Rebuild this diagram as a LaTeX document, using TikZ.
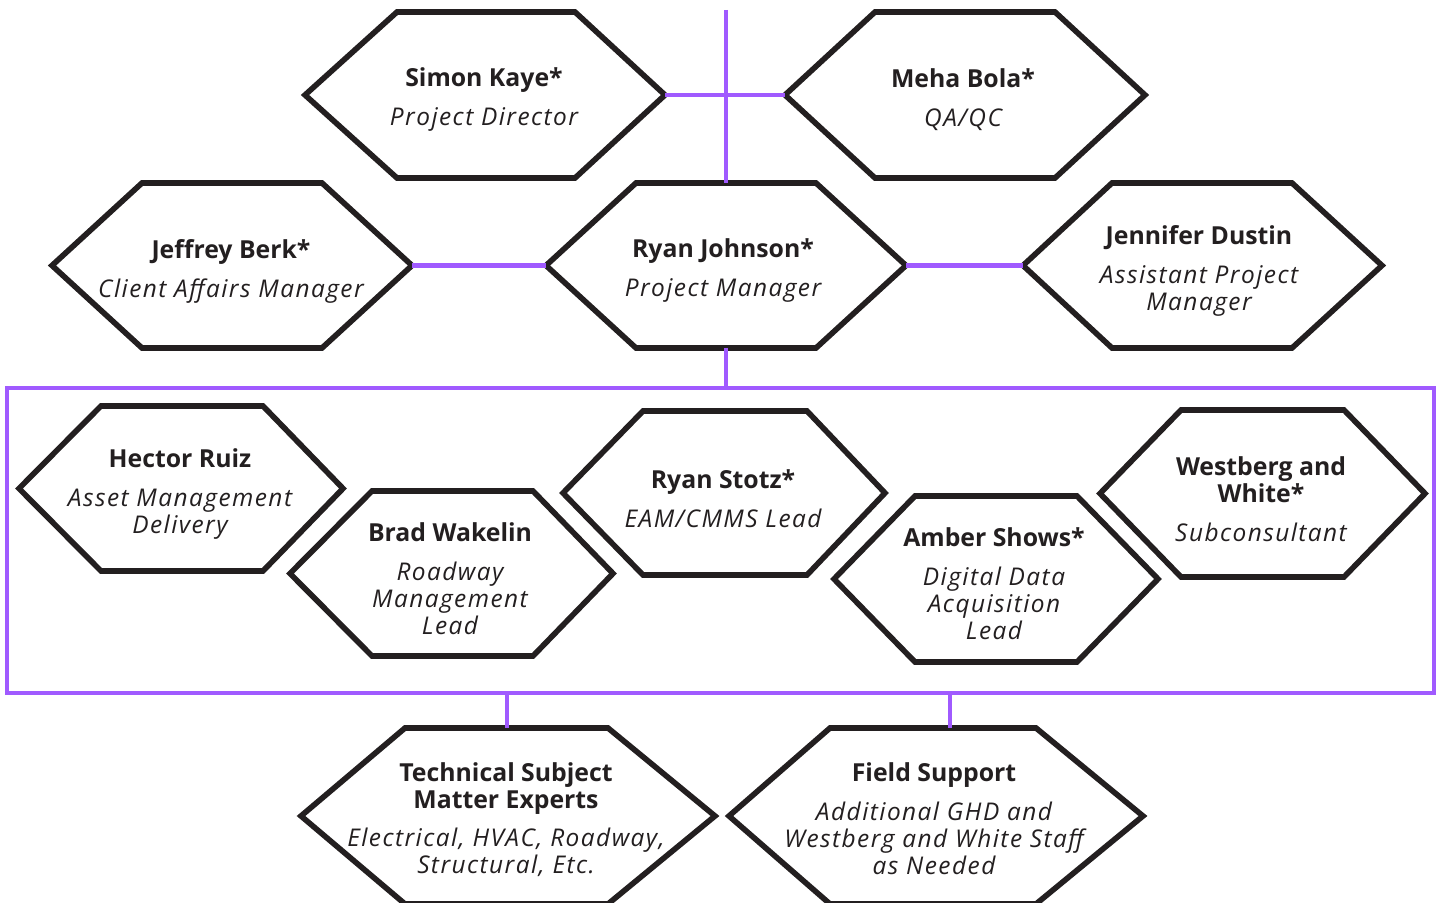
\documentclass[tikz,border=0pt]{standalone}
\usepackage{fontspec}
\setmainfont{Open Sans}
\newfontfamily\rolefont{Open Sans}[LetterSpace=6]
\definecolor{purp}{HTML}{A05AFF}
\definecolor{ink}{HTML}{231F20}
\tikzset{
  hexline/.style={draw=ink, line width=2.8pt, line join=miter, fill=white},
  conn/.style={draw=purp, line width=2.2pt},
  frame/.style={draw=purp, line width=2.2pt},
  lbl/.style={align=center, text=ink, font=\fontsize{12}{13.5}\selectfont, inner sep=0pt},
}
\newcommand{\hexbox}[7]{%
  \draw[hexline] (#2,{(#6+#7)/2}) -- (#3,#6) -- (#4,#6) -- (#5,{(#6+#7)/2}) -- (#4,#7) -- (#3,#7) -- cycle;
  \coordinate (#1-l) at (#2,{(#6+#7)/2});
  \coordinate (#1-r) at (#5,{(#6+#7)/2});
  \coordinate (#1-t) at ({(#2+#5)/2},#6);
  \coordinate (#1-b) at ({(#2+#5)/2},#7);
}
\newcommand{\nm}[1]{{\fontsize{12.4}{13.5}\selectfont\bfseries #1}}
\newcommand{\rl}[1]{{\rolefont\fontsize{12.2}{13.5}\selectfont\itshape #1}}
\begin{document}
\begin{tikzpicture}[x=0.5pt,y=-0.5pt]
\useasboundingbox (0,0) rectangle (1440,903);
\clip (0,0) rectangle (1440,903);
\coordinate (topend) at (726,10);
\coordinate (boxtop) at (726,388);
\coordinate (boxbotL) at (507,693);
\coordinate (boxbotR) at (950,693);
% frame
\draw[frame] (7,388) rectangle (1434,693);
% hexagons
\hexbox{simon}{305}{397}{575}{665}{12}{178}
\hexbox{meha}{785}{875}{1055}{1145}{12}{178}
\hexbox{jeff}{52}{142}{322}{412}{183}{348}
\hexbox{ryanj}{546}{636}{816}{906}{183}{348}
\hexbox{jen}{1023}{1112}{1292}{1382}{183}{348}
\hexbox{hector}{19}{101}{263}{343}{406}{571}
\hexbox{brad}{290}{372}{533}{613}{491}{656}
\hexbox{stotz}{563}{643}{807}{885}{411}{575}
\hexbox{amber}{834}{915}{1077}{1158}{496}{662}
\hexbox{west}{1100}{1181}{1344}{1425}{410}{577}
\hexbox{tech}{301}{405}{608}{715}{728}{904}
\hexbox{field}{729}{830}{1036}{1143}{728}{904}
% connectors
\draw[conn] (topend) -- (ryanj-t);
\draw[conn] (simon-r) -- (meha-l);
\draw[conn] (jeff-r) -- (ryanj-l);
\draw[conn] (ryanj-r) -- (jen-l);
\draw[conn] (ryanj-b) -- (boxtop);
\draw[conn] (boxbotL) -- (tech-t -| boxbotL);
\draw[conn] (boxbotR) -- (field-t -| boxbotR);
% texts
\node[lbl] (tsimon) at (484,100) {\nm{Simon Kaye*}\\[6pt]\rl{Project Director}};
\node[lbl] (tmeha) at (963,100) {\nm{Meha Bola*}\\[6pt]\rl{QA/QC}};
\node[lbl] (tjeff) at (231,271) {\nm{Jeffrey Berk*}\\[6pt]\rl{Client Affairs Manager}};
\node[lbl] (tryanj) at (723,271) {\nm{Ryan Johnson*}\\[6pt]\rl{Project Manager}};
\node[lbl] (tjen) at (1199,271) {\nm{Jennifer Dustin}\\[6pt]\rl{Assistant Project}\\\rl{Manager}};
\node[lbl] (thector) at (180,494) {\nm{Hector Ruiz}\\[6pt]\rl{Asset Management}\\\rl{Delivery}};
\node[lbl] (tbrad) at (450,579) {\nm{Brad Wakelin}\\[6pt]\rl{Roadway}\\\rl{Management}\\\rl{Lead}};
\node[lbl] (tstotz) at (723,499) {\nm{Ryan Stotz*}\\[6pt]\rl{EAM/CMMS Lead}};
\node[lbl] (tamber) at (994,584) {\nm{Amber Shows*}\\[6pt]\rl{Digital Data}\\\rl{Acquisition}\\\rl{Lead}};
\node[lbl] (twest) at (1261,499) {\nm{Westberg and}\\\nm{White*}\\[6pt]\rl{Subconsultant}};
\node[lbl] (ttech) at (506,819.5) {\nm{Technical Subject}\\\nm{Matter Experts}\\[5.5pt]\rl{Electrical, HVAC, Roadway,}\\\rl{Structural, Etc.}};
\node[lbl] (tfield) at (934,818.5) {\nm{Field Support}\\[6pt]\rl{Additional GHD and}\\\rl{Westberg and White Staff}\\\rl{as Needed}};
\end{tikzpicture}
\end{document}
